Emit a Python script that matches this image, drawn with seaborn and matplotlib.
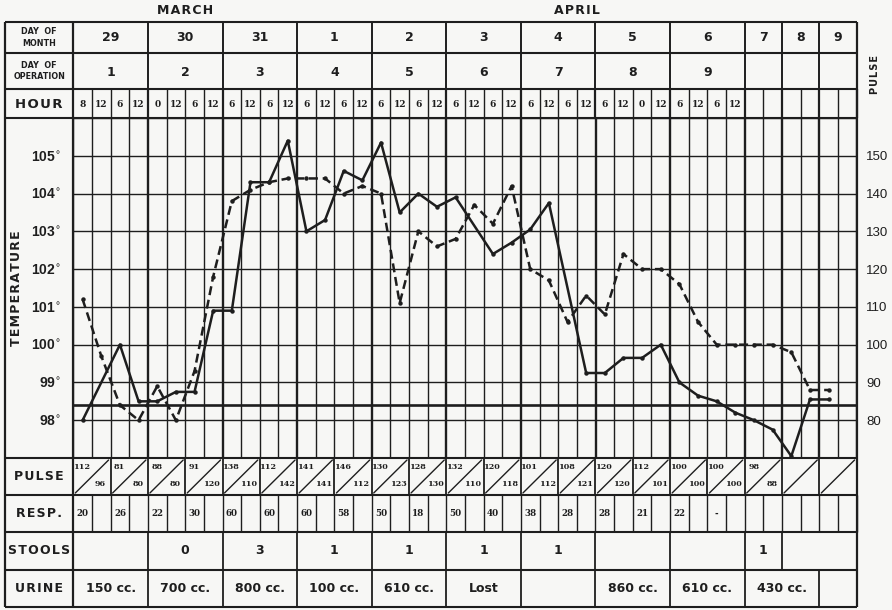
import numpy as np
import pandas as pd
import seaborn as sns
import matplotlib.pyplot as plt

# ---- chart data ----
months = ["MARCH", "APRIL"]
month_days = [3, 9]
day_of_month = ["29", "30", "31", "1", "2", "3", "4", "5", "6", "7", "8", "9"]
day_of_op = ["1", "2", "3", "4", "5", "6", "7", "8", "9", "", "", ""]
day_cols = [4, 4, 4, 4, 4, 4, 4, 4, 4, 2, 2, 2]
hours = ["8", "12", "6", "12", "0", "12", "6", "12", "6", "12", "6", "12",
         "6", "12", "6", "12", "6", "12", "6", "12", "6", "12", "6", "12",
         "6", "12", "6", "12", "6", "12", "0", "12", "6", "12", "6", "12",
         "", "", "", "", "", ""]

# temperature (solid) and pulse (dashed), one reading per hour slot
temp = [98.0, None, 100.0, 98.5, 98.5, 98.75, 98.75, 100.9, 100.9, 104.3,
        104.3, 105.4, 103.0, 103.3, 104.6, 104.35, 105.35, 103.5, 104.0, 103.65,
        103.9, None, 102.4, 102.7, 103.05, 103.75, None, 99.25, 99.25, 99.65,
        99.65, 100.0, 99.0, 98.65, 98.5, 98.2, 98.0, 97.75, 97.05, 98.55, 98.55]
pulse = [112, 97, 84, 80, 89, 80, 93, 118, 138, 141,
         143, 144, 144, 144, 140, 142, 140, 111, 130, 126,
         128, 137, 132, 142, 120, 117, 106, 113, 108, 124,
         120, 120, 116, 106, 100, 100, 100, 100, 98, 88, 88]

pulse_top = ["112", "81", "88", "91", "138", "112", "141", "146", "130", "128",
             "132", "120", "101", "108", "120", "112", "100", "100", "98", "", ""]
pulse_bottom = ["96", "80", "80", "120", "110", "142", "141", "112", "123", "130",
                "110", "118", "112", "121", "120", "101", "100", "100", "88", "", ""]
resp = ["20", "26", "22", "30", "60", "60", "60", "58", "50", "18", "50", "40",
        "38", "28", "28", "21", "22", "-", "", "", ""]
stools = ["", "0", "3", "1", "1", "1", "1", "", "", "1", ""]
stools_days = [1, 1, 1, 1, 1, 1, 1, 1, 1, 1, 2]
urine = ["150 cc.", "700 cc.", "800 cc.", "100 cc.", "610 cc.", "Lost", "",
         "860 cc.", "610 cc.", "430 cc.", ""]
urine_days = [1, 1, 1, 1, 1, 1, 1, 1, 1, 2, 1]

temp_ticks = [98, 99, 100, 101, 102, 103, 104, 105]
pulse_ticks = [80, 90, 100, 110, 120, 130, 140, 150]

# ---- layout (pixels) ----
W, H = 892, 610
ink = "#1e1e1e"
paper = "#f7f7f5"
x0, cw = 73.3, 18.65
ncol = sum(day_cols)
xr = x0 + cw * ncol
xl = 5
y_top, y_r1, y_r2, y_plot0, y_plot1 = 22, 53, 89, 118, 458
y_resp, y_stool, y_urine, y_end = 495, 532, 570, 607

col_x = [x0 + cw * k for k in range(ncol + 1)]
day_edge = np.concatenate([[0], np.cumsum(day_cols)])

sns.set_style("white")
plt.rcParams["font.family"] = ["Liberation Sans", "DejaVu Sans"]
serif = dict(family="DejaVu Serif", weight="bold")
wide = dict(family="DejaVu Sans", weight="bold")


def spaced(s):
    return "\u200a".join(s)


fig = plt.figure(figsize=(W / 100, H / 100), dpi=100, facecolor=paper)
ax = fig.add_axes([x0 / W, 1 - y_plot1 / H, (xr - x0) / W, (y_plot1 - y_plot0) / H])
ax.set_facecolor(paper)

df = pd.DataFrame({"slot": np.arange(len(temp)), "temperature": temp, "pulse": pulse})
df["temperature"] = pd.to_numeric(df["temperature"])

ax.set_xlim(-0.5, ncol - 0.5)
ax.set_ylim(97, 106)
for k in range(ncol + 1):
    ax.axvline(k - 0.5, color=ink, lw=1.7 if k in day_edge else 1.0, zorder=1)
for t in range(97, 107):
    ax.axhline(t, color=ink, lw=1.0, zorder=1)
ax.axhline(98.4, color=ink, lw=1.9, zorder=1)

sns.lineplot(data=df.dropna(subset=["temperature"]), x="slot", y="temperature", ax=ax,
             color=ink, lw=1.8, marker="o", ms=3.2, mew=0, zorder=3)

ax2 = ax.twinx()
ax2.set_ylim(70, 160)
sns.lineplot(data=df, x="slot", y="pulse", ax=ax2, color=ink, lw=1.8,
             ls=(0, (3.6, 1.9)), marker="o", ms=3.2, mew=0)

ax.set_xticks([])
ax.set_yticks(temp_ticks)
ax.set_yticklabels([f"{t}$^{{\\circ}}$" for t in temp_ticks], fontsize=10, weight="bold")
ax.tick_params(axis="y", length=0, pad=9, colors=ink)
ax2.set_yticks(pulse_ticks)
ax2.set_yticklabels([str(p) for p in pulse_ticks], fontsize=9.5)
ax2.tick_params(axis="y", length=0, pad=7, colors=ink)
for a in (ax, ax2):
    a.set_xlabel("")
    a.set_ylabel("")
    for s in a.spines.values():
        s.set_visible(False)

# ---- table around the chart, drawn in pixel coordinates ----
tab = fig.add_axes([0, 0, 1, 1], zorder=5)
tab.set_xlim(0, W)
tab.set_ylim(H, 0)
tab.axis("off")
tab.patch.set_alpha(0)


def hline(y, a=xl, b=xr, lw=1.3):
    tab.plot([a, b], [y, y], color=ink, lw=lw, solid_capstyle="butt")


def vline(x, a, b, lw=1.3):
    tab.plot([x, x], [a, b], color=ink, lw=lw, solid_capstyle="butt")


for y in (y_top, y_r1, y_r2, y_plot0, y_plot1, y_resp, y_stool, y_urine, y_end):
    hline(y, lw=1.5)
for x in (xl, x0, xr):
    vline(x, y_top, y_end, lw=1.6)

# months
start = 0
for name, n in zip(months, month_days):
    cols = sum(day_cols[start:start + n])
    c0 = sum(day_cols[:start])
    tab.text((col_x[c0] + col_x[c0 + cols]) / 2, 11, spaced(name), ha="center",
             va="center", fontsize=9, color=ink, **wide)
    start += n

# day of month / day of operation
for i in range(len(day_cols)):
    xa, xb = col_x[day_edge[i]], col_x[day_edge[i + 1]]
    vline(xb, y_top, y_r2, lw=1.4)
    tab.text((xa + xb) / 2, (y_top + y_r1) / 2, day_of_month[i], ha="center", va="center",
             fontsize=9, color=ink, **wide)
    tab.text((xa + xb) / 2, (y_r1 + y_r2) / 2 + 1, day_of_op[i], ha="center", va="center",
             fontsize=9, color=ink, **wide)

# hour row
for k in range(ncol):
    vline(col_x[k + 1], y_r2, y_plot0, lw=1.6 if (k + 1) in day_edge else 1.0)
    tab.text((col_x[k] + col_x[k + 1]) / 2, (y_r2 + y_plot0) / 2 + 1, hours[k],
             ha="center", va="center", fontsize=6.5, color=ink, **serif)

# pulse row
for j in range(ncol // 2):
    xa, xb = col_x[2 * j], col_x[2 * j + 2]
    vline(xb, y_plot1, y_resp, lw=1.3)
    tab.plot([xa + 2, xb - 2], [y_resp - 2, y_plot1 + 2], color=ink, lw=1.0)
    tab.text(xa + 9, y_plot1 + 9, pulse_top[j], ha="center", va="center",
             fontsize=5.8, color=ink, **serif)
    tab.text(xb - 10, y_resp - 11, pulse_bottom[j], ha="center", va="center",
             fontsize=5.8, color=ink, **serif)

# respiration row
for k in range(ncol):
    vline(col_x[k + 1], y_resp, y_stool, lw=1.0)
for j in range(ncol // 2):
    tab.text((col_x[2 * j] + col_x[2 * j + 1]) / 2, (y_resp + y_stool) / 2, resp[j],
             ha="center", va="center", fontsize=6.3, color=ink, **serif)

# stools and urine rows
for labels, spans, ya, yb in ((stools, stools_days, y_stool, y_urine),
                              (urine, urine_days, y_urine, y_end)):
    d = 0
    for lab, n in zip(labels, spans):
        xa, xb = col_x[day_edge[d]], col_x[day_edge[d + n]]
        vline(xb, ya, yb, lw=1.3)
        tab.text((xa + xb) / 2, (ya + yb) / 2, lab, ha="center", va="center",
                 fontsize=9, color=ink, family="DejaVu Sans",
                 weight="bold" if len(lab) < 2 else "semibold")
        d += n

# row labels
xm = (xl + x0) / 2
tab.text(xm, (y_top + y_r1) / 2, "DAY  OF\nMONTH", ha="center", va="center",
         fontsize=5.8, color=ink, linespacing=1.3, **wide)
tab.text(xm, (y_r1 + y_r2) / 2, "DAY  OF\nOPERATION", ha="center", va="center",
         fontsize=5.8, color=ink, linespacing=1.3, **wide)
tab.text(xm, (y_r2 + y_plot0) / 2 + 1, spaced("HOUR"), ha="center", va="center",
         fontsize=9.5, color=ink, **wide)
tab.text(17, 288, spaced("TEMPERATURE"), ha="center", va="center", rotation=90,
         fontsize=9, color=ink, **wide)
tab.text(875, 75, spaced("PULSE"), ha="center", va="center", rotation=90,
         fontsize=7, color=ink, **wide)
for name, ya, yb in (("PULSE", y_plot1, y_resp), ("RESP.", y_resp, y_stool),
                     ("STOOLS", y_stool, y_urine), ("URINE", y_urine, y_end)):
    tab.text(xm, (ya + yb) / 2, spaced(name), ha="center", va="center",
             fontsize=9, color=ink, **wide)

fig.savefig("out.png", dpi=100, facecolor=paper)
